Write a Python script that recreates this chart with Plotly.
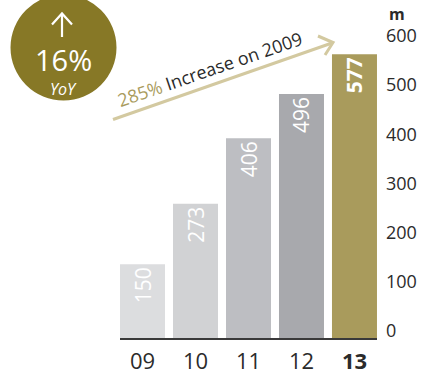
import plotly.graph_objects as go

# ---- data ----
years = ["09", "10", "11", "12", "13"]
year_labels = ["09", "10", "11", "12", "<b>13</b>"]
values = [150, 273, 406, 496, 577]
value_labels = ["150", "273", "406", "496", "<b>577</b>"]
bar_colors = ["#dcdddf", "#d1d2d4", "#bdbec2", "#a8a9ad", "#a99b5c"]
y_ticks = [0, 100, 200, 300, 400, 500, 600]

W_FIG, H_FIG = 424, 374
L, R, T, B = 120, 47, 33, 36
PW = W_FIG - L - R
PH = H_FIG - T - B


def px(x):
    return (x - L) / PW


def py(y):
    return (H_FIG - B - y) / PH


FONT = "Open Sans"

fig = go.Figure()
fig.add_trace(go.Bar(
    x=years, y=values,
    marker=dict(color=bar_colors, line=dict(width=0)),
    text=value_labels,
    textposition="inside",
    insidetextanchor="end",
    textangle=-90,
    insidetextfont=dict(family=FONT, size=21, color="white"),
    hoverinfo="skip",
))

shapes = []
# circle badge
shapes.append(dict(type="circle", xref="paper", yref="paper",
                   x0=px(10.5), x1=px(116.5), y0=py(100.5), y1=py(-5.5),
                   fillcolor="#877826", line=dict(width=0), layer="above"))
# up arrow in circle
shapes.append(dict(type="path", xref="paper", yref="paper",
                   path=f"M {px(62)} {py(37)} L {px(62)} {py(14)}",
                   line=dict(color="white", width=2.2)))
shapes.append(dict(type="path", xref="paper", yref="paper",
                   path=f"M {px(52)} {py(24.5)} L {px(62)} {py(13.5)} L {px(72)} {py(24.5)}",
                   line=dict(color="white", width=2.2)))
# growth arrow
ARROW = "#d3c9a0"
shapes.append(dict(type="path", xref="paper", yref="paper",
                   path=f"M {px(113)} {py(119.5)} L {px(332)} {py(43)}",
                   line=dict(color=ARROW, width=3)))
shapes.append(dict(type="path", xref="paper", yref="paper",
                   path=f"M {px(318)} {py(36)} L {px(333)} {py(42.5)} L {px(325)} {py(55)}",
                   line=dict(color=ARROW, width=3)))

annotations = [
    dict(text="16%", x=px(63), y=py(59), xref="paper", yref="paper",
         showarrow=False, xanchor="center", yanchor="middle",
         font=dict(family=FONT, size=29, color="white")),
    dict(text="<i>YoY</i>", x=px(63), y=py(89), xref="paper", yref="paper",
         showarrow=False, xanchor="center", yanchor="middle",
         font=dict(family=FONT, size=16, color="white")),
    dict(text="<span style='color:#a99b5c'>285%</span> Increase on 2009",
         x=px(210), y=py(69), xref="paper", yref="paper",
         showarrow=False, xanchor="center", yanchor="middle", textangle=-19,
         font=dict(family=FONT, size=18, color="#2b2b2b")),
    dict(text="<b>m</b>", x=px(387), y=py(14), xref="paper", yref="paper",
         showarrow=False, xanchor="left", yanchor="middle",
         font=dict(family=FONT, size=16, color="#2b2b2b")),
]

fig.update_layout(
    width=W_FIG, height=H_FIG,
    margin=dict(l=L, r=R, t=T, b=B, autoexpand=False),
    paper_bgcolor="white", plot_bgcolor="white",
    bargap=8 / 53,
    showlegend=False,
    shapes=shapes,
    annotations=annotations,
    uniformtext=dict(minsize=8),
    xaxis=dict(
        type="category", range=[-0.425, 4.425],
        tickmode="array", tickvals=years, ticktext=year_labels,
        showline=True, linecolor="#3a3a3a", linewidth=2,
        showgrid=False, zeroline=False, ticks="", automargin=False,
        ticklabelstandoff=3,
        tickfont=dict(family=FONT, size=22, color="#2b2b2b"),
    ),
    yaxis=dict(
        range=[0, 620], side="right", automargin=False,
        tickmode="array", tickvals=y_ticks,
        showgrid=False, zeroline=False, showline=False, ticks="",
        ticklabelstandoff=8, ticklabelshift=-7,
        tickfont=dict(family=FONT, size=18, color="#2b2b2b"),
    ),
)

fig.write_html("out.html")
